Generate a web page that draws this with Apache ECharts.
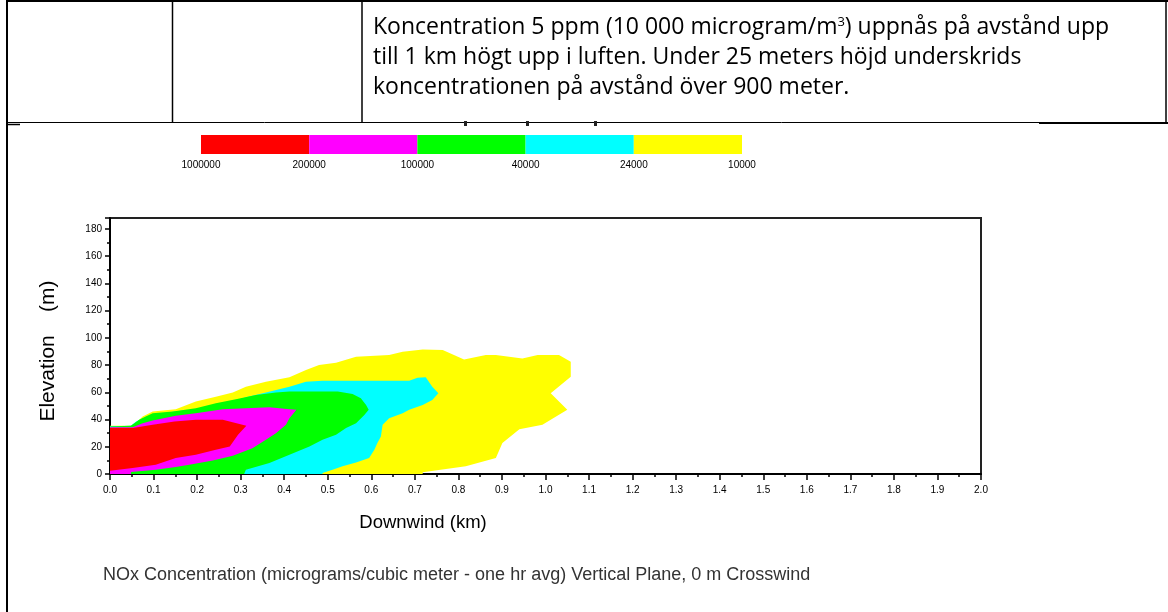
<!DOCTYPE html>
<html>
<head>
<meta charset="utf-8">
<script src="https://cdn.jsdelivr.net/npm/echarts@6/dist/echarts.min.js"></script>
<style>
  html, body { margin: 0; padding: 0; background: #ffffff; }
  #chart { width: 1168px; height: 612px; }
</style>
</head>
<body>
<div id="chart"></div>
<script>
// Concentration levels (micrograms per cubic metre), highest band first
const levelLabels = ['1000000', '200000', '100000', '40000', '24000', '10000'];
const bandColors = ['#ff0000', '#ff00ff', '#00ff00', '#00ffff', '#ffff00'];

// Downwind axis (km) and elevation axis (m)
const xRange = [0, 2.0];
const xStep = 0.1;
const yRange = [0, 188];
const yStep = 20;

// Plume outlines as [downwind km, elevation m]; each ring encloses the area at or above its level
const plume10000 = [
  [0, 0], [0, 35.4], [0.052, 35.4], [0.075, 42.2], [0.098, 45.9], [0.151, 47.6],
  [0.197, 53.2], [0.243, 56.8], [0.282, 59.8], [0.312, 64.1], [0.358, 67.8],
  [0.412, 71.0], [0.450, 76.3], [0.480, 80.0], [0.519, 81.7], [0.565, 86.1],
  [0.641, 87.3], [0.672, 89.8], [0.718, 91.5], [0.764, 91.0], [0.813, 84.1],
  [0.863, 87.3], [0.886, 87.3], [0.947, 84.9], [0.982, 87.3], [1.031, 87.3],
  [1.058, 82.4], [1.058, 71.5], [1.012, 59.3], [1.050, 47.1], [0.993, 36.1],
  [0.940, 32.9], [0.901, 22.7], [0.886, 11.7], [0.817, 5.6], [0.718, 1.2], [0.718, 0]
];
const plume24000 = [
  [0, 0], [0, 35.1], [0.048, 35.4], [0.060, 38.5], [0.075, 41.0], [0.098, 43.4],
  [0.148, 45.9], [0.197, 47.6], [0.243, 50.7], [0.282, 53.2], [0.312, 56.3],
  [0.358, 59.8], [0.412, 64.1], [0.450, 67.8], [0.488, 68.5], [0.687, 68.5],
  [0.706, 70.7], [0.725, 71.0], [0.740, 64.1], [0.754, 59.3], [0.740, 54.4],
  [0.718, 50.7], [0.687, 47.1], [0.672, 44.6], [0.641, 41.0], [0.626, 36.1],
  [0.622, 27.6], [0.614, 22.7], [0.607, 17.8], [0.595, 11.7], [0.565, 8.5],
  [0.534, 5.6], [0.511, 3.2], [0.488, 0.7], [0.488, 0]
];
const plume40000 = [
  [0, 0], [0, 34.9], [0.048, 35.4], [0.067, 39.8], [0.082, 42.2], [0.098, 44.6],
  [0.144, 45.9], [0.197, 48.3], [0.243, 51.9], [0.289, 54.9], [0.335, 58.0],
  [0.381, 59.8], [0.412, 60.5], [0.523, 60.5], [0.557, 58.8], [0.576, 55.6],
  [0.588, 50.7], [0.594, 47.1], [0.584, 43.4], [0.565, 37.3], [0.542, 33.7],
  [0.519, 28.8], [0.488, 25.1], [0.458, 20.2], [0.412, 14.1], [0.366, 8.0],
  [0.312, 3.2], [0.308, 0]
];
const plume100000 = [
  [0, 0], [0, 34.4], [0.052, 34.4], [0.075, 37.3], [0.098, 39.3], [0.151, 42.7],
  [0.197, 44.6], [0.259, 47.6], [0.312, 48.3], [0.366, 49.0], [0.412, 47.6],
  [0.428, 47.1], [0.412, 41.0], [0.404, 36.1], [0.381, 30.0], [0.358, 25.1],
  [0.327, 19.0], [0.282, 13.4], [0.236, 10.0], [0.182, 6.8], [0.151, 5.1],
  [0.105, 3.2], [0.048, 1.5], [0.048, 0]
];
const plume200000 = [
  [0, 33.7], [0.052, 33.7], [0.098, 36.1], [0.148, 38.5], [0.197, 39.8],
  [0.259, 39.8], [0.313, 35.4], [0.294, 28.8], [0.275, 20.2], [0.243, 17.8],
  [0.197, 14.1], [0.151, 11.7], [0.105, 6.8], [0.052, 4.4], [0, 2.4]
];

const plumeRings = [plume10000, plume24000, plume40000, plume100000, plume200000];
const ringColors = [bandColors[4], bandColors[3], bandColors[2], bandColors[1], bandColors[0]];

const tableLines = [
  'Koncentration 5 ppm (10 000 microgram/m{sup|3}) uppnås på avstånd upp',
  'till 1 km högt upp i luften. Under 25 meters höjd underskrids',
  'koncentrationen på avstånd över 900 meter.'
];
const caption = 'NOx Concentration (micrograms/cubic meter - one hr avg) Vertical Plane, 0 m Crosswind';

// One filled polygon per level, projected through the plot's axes
function ringSeries(ring, color) {
  return {
    type: 'custom',
    xAxisIndex: 0,
    yAxisIndex: 0,
    clip: true,
    silent: true,
    data: ring,
    encode: { x: 0, y: 1 },
    renderItem: function (params, api) {
      if (params.dataIndex !== 0) return null;
      return {
        type: 'polygon',
        shape: { points: ring.map(function (p) { return api.coord(p); }) },
        style: { fill: color, stroke: null }
      };
    }
  };
}

// Colour key: one stacked segment per band
const keySeries = bandColors.map(function (c) {
  return {
    type: 'bar',
    xAxisIndex: 1,
    yAxisIndex: 1,
    stack: 'key',
    barWidth: '100%',
    silent: true,
    data: [1],
    itemStyle: { color: c }
  };
});

const axisFont = { fontFamily: 'Liberation Sans, Arial, sans-serif', fontSize: 10, color: '#000' };

const lineStyle = { stroke: '#000', lineWidth: 2 };
const thin = { stroke: '#000', lineWidth: 1 };

const graphics = [
  // table frame
  { type: 'line', shape: { x1: 6, y1: 1, x2: 1168, y2: 1 }, style: lineStyle },
  { type: 'line', shape: { x1: 7, y1: 0, x2: 7, y2: 612 }, style: lineStyle },
  { type: 'line', shape: { x1: 172.5, y1: 0, x2: 172.5, y2: 122 }, style: { stroke: '#000', lineWidth: 1.5 } },
  { type: 'line', shape: { x1: 362, y1: 0, x2: 362, y2: 122 }, style: { stroke: '#000', lineWidth: 1.5 } },
  { type: 'line', shape: { x1: 1166, y1: 0, x2: 1166, y2: 122 }, style: { stroke: '#000', lineWidth: 1.5 } },
  { type: 'line', shape: { x1: 6, y1: 122.5, x2: 1040, y2: 122.5 }, style: thin },
  { type: 'line', shape: { x1: 1039, y1: 123, x2: 1168, y2: 123 }, style: lineStyle },
  { type: 'line', shape: { x1: 7, y1: 124.5, x2: 20, y2: 124.5 }, style: { stroke: '#000', lineWidth: 1.5 } },
  // clipped title remnants above the key
  { type: 'rect', shape: { x: 464, y: 121, width: 3, height: 5 }, style: { fill: '#222' } },
  { type: 'rect', shape: { x: 526, y: 121, width: 3, height: 5 }, style: { fill: '#222' } },
  { type: 'rect', shape: { x: 594, y: 121, width: 3, height: 5 }, style: { fill: '#222' } },
  // axis titles
  {
    type: 'text', x: 423, y: 523,
    style: { text: 'Downwind (km)', font: '18.5px "Liberation Sans", Arial, sans-serif', fill: '#000', textAlign: 'center', textVerticalAlign: 'middle' }
  },
  {
    type: 'text', x: 48, y: 351, rotation: Math.PI / 2,
    style: { text: 'Elevation    (m)', font: '21px "Liberation Sans", Arial, sans-serif', fill: '#000', textAlign: 'center', textVerticalAlign: 'middle' }
  },
  {
    type: 'text', x: 103, y: 575,
    style: { text: caption, font: '18px "Liberation Sans", Arial, sans-serif', fill: '#333', textAlign: 'left', textVerticalAlign: 'middle' }
  }
];

tableLines.forEach(function (t, i) {
  graphics.push({
    type: 'text', x: 373, y: 27 + i * 30,
    style: {
      text: t,
      font: '23px "Open Sans", sans-serif',
      fill: '#000',
      textAlign: 'left',
      textVerticalAlign: 'middle',
      rich: {
        sup: { fontSize: 13, fontFamily: 'Open Sans', verticalAlign: 'top', padding: [0, 0, 10, 0], fill: '#000' }
      }
    }
  });
});

const chart = echarts.init(document.getElementById('chart'), null, { renderer: 'canvas' });
chart.setOption({
  animation: false,
  backgroundColor: '#ffffff',
  grid: [
    { left: 110, top: 218, width: 871, height: 256, show: true, borderColor: '#222', borderWidth: 2, backgroundColor: 'transparent' },
    { left: 201, top: 135, width: 541, height: 19 }
  ],
  xAxis: [
    {
      gridIndex: 0, type: 'value', min: xRange[0], max: xRange[1], interval: xStep,
      axisLine: { show: true, lineStyle: { color: '#000', width: 2 } },
      axisTick: { show: true, inside: false, length: 6, lineStyle: { color: '#000', width: 1.5 } },
      minorTick: { show: true, splitNumber: 2, length: 3, lineStyle: { color: '#000', width: 1.5 } },
      splitLine: { show: false },
      axisLabel: Object.assign({ margin: 11, formatter: function (v) { return v.toFixed(1); } }, axisFont)
    },
    {
      gridIndex: 1, type: 'value', min: 0, max: levelLabels.length - 1, interval: 1,
      axisLine: { show: false }, axisTick: { show: false }, splitLine: { show: false },
      axisLabel: { margin: 6, fontSize: 10, fontFamily: 'Liberation Sans, Arial, sans-serif', color: '#000', formatter: function (v) { return levelLabels[v]; } }
    }
  ],
  yAxis: [
    {
      gridIndex: 0, type: 'value', min: yRange[0], max: yRange[1], interval: yStep,
      axisLine: { show: true, lineStyle: { color: '#000', width: 2 } },
      axisTick: { show: true, inside: false, length: 5, lineStyle: { color: '#000', width: 1.5 } },
      minorTick: { show: true, splitNumber: 2, length: 3, lineStyle: { color: '#000', width: 1.5 } },
      splitLine: { show: false },
      axisLabel: Object.assign({ margin: 8, showMaxLabel: false }, axisFont)
    },
    {
      gridIndex: 1, type: 'category', data: ['key'], show: false
    }
  ],
  series: plumeRings.map(function (r, i) { return ringSeries(r, ringColors[i]); }).concat(keySeries),
  graphic: graphics
});
</script>
</body>
</html>
